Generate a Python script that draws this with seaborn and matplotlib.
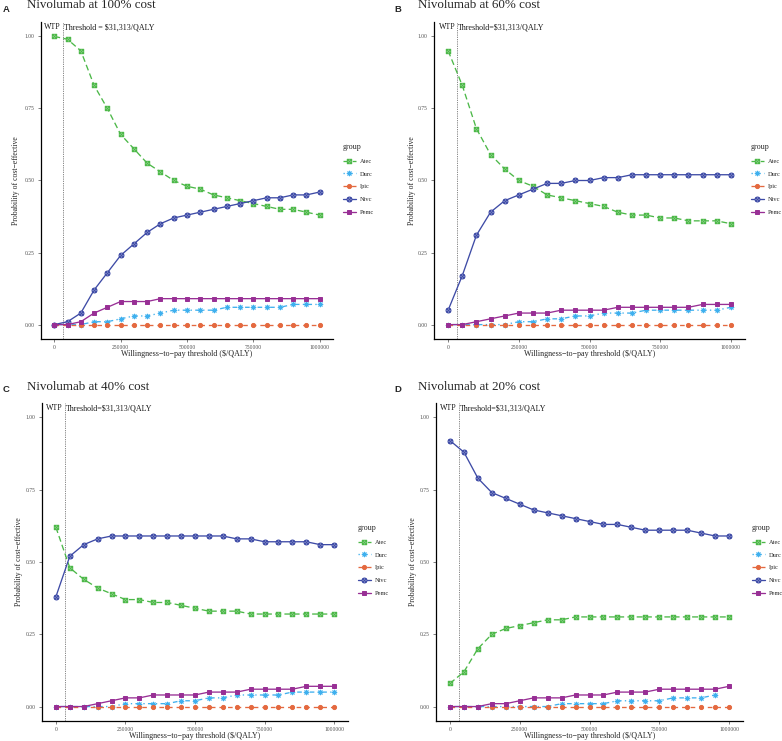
import numpy as np
import pandas as pd
import seaborn as sns
import matplotlib
matplotlib.use("Agg")
import matplotlib.pyplot as plt
from matplotlib.path import Path
from matplotlib.lines import Line2D

# ---------------- data ----------------
wtp = [0, 50000, 100000, 150000, 200000, 250000, 300000, 350000, 400000, 450000,
       500000, 550000, 600000, 650000, 700000, 750000, 800000, 850000, 900000,
       950000, 1000000]
groups = ["Atec", "Durc", "Ipic", "Nivc", "Pemc"]
threshold = 31313

# Panel A: 100% cost
atec_100 = [1.00, 0.99, 0.95, 0.83, 0.75, 0.66, 0.61, 0.56, 0.53, 0.50, 0.48,
            0.47, 0.45, 0.44, 0.43, 0.42, 0.41, 0.40, 0.40, 0.39, 0.38]
durc_100 = [0.00, 0.00, 0.00, 0.01, 0.01, 0.02, 0.03, 0.03, 0.04, 0.05, 0.05,
            0.05, 0.05, 0.06, 0.06, 0.06, 0.06, 0.06, 0.07, 0.07, 0.07]
ipic_100 = [0.00] * 21
nivc_100 = [0.00, 0.01, 0.04, 0.12, 0.18, 0.24, 0.28, 0.32, 0.35, 0.37, 0.38,
            0.39, 0.40, 0.41, 0.42, 0.43, 0.44, 0.44, 0.45, 0.45, 0.46]
pemc_100 = [0.00, 0.00, 0.01, 0.04, 0.06, 0.08, 0.08, 0.08, 0.09, 0.09, 0.09,
            0.09, 0.09, 0.09, 0.09, 0.09, 0.09, 0.09, 0.09, 0.09, 0.09]

# Panel B: 60% cost
atec_60 = [0.95, 0.83, 0.68, 0.59, 0.54, 0.50, 0.48, 0.45, 0.44, 0.43, 0.42,
           0.41, 0.39, 0.38, 0.38, 0.37, 0.37, 0.36, 0.36, 0.36, 0.35]
durc_60 = [0.00, 0.00, 0.00, 0.00, 0.00, 0.01, 0.01, 0.02, 0.02, 0.03, 0.03,
           0.04, 0.04, 0.04, 0.05, 0.05, 0.05, 0.05, 0.05, 0.05, 0.06]
ipic_60 = [0.00] * 21
nivc_60 = [0.05, 0.17, 0.31, 0.39, 0.43, 0.45, 0.47, 0.49, 0.49, 0.50, 0.50,
           0.51, 0.51, 0.52, 0.52, 0.52, 0.52, 0.52, 0.52, 0.52, 0.52]
pemc_60 = [0.00, 0.00, 0.01, 0.02, 0.03, 0.04, 0.04, 0.04, 0.05, 0.05, 0.05,
           0.05, 0.06, 0.06, 0.06, 0.06, 0.06, 0.06, 0.07, 0.07, 0.07]

# Panel C: 40% cost
atec_40 = [0.62, 0.48, 0.44, 0.41, 0.39, 0.37, 0.37, 0.36, 0.36, 0.35, 0.34,
           0.33, 0.33, 0.33, 0.32, 0.32, 0.32, 0.32, 0.32, 0.32, 0.32]
durc_40 = [0.00, 0.00, 0.00, 0.00, 0.00, 0.01, 0.01, 0.01, 0.01, 0.02, 0.02,
           0.03, 0.03, 0.04, 0.04, 0.04, 0.04, 0.05, 0.05, 0.05, 0.05]
ipic_40 = [0.00] * 21
nivc_40 = [0.38, 0.52, 0.56, 0.58, 0.59, 0.59, 0.59, 0.59, 0.59, 0.59, 0.59,
           0.59, 0.59, 0.58, 0.58, 0.57, 0.57, 0.57, 0.57, 0.56, 0.56]
pemc_40 = [0.00, 0.00, 0.00, 0.01, 0.02, 0.03, 0.03, 0.04, 0.04, 0.04, 0.04,
           0.05, 0.05, 0.05, 0.06, 0.06, 0.06, 0.06, 0.07, 0.07, 0.07]

# Panel D: 20% cost
atec_20 = [0.08, 0.12, 0.20, 0.25, 0.27, 0.28, 0.29, 0.30, 0.30, 0.31, 0.31,
           0.31, 0.31, 0.31, 0.31, 0.31, 0.31, 0.31, 0.31, 0.31, 0.31]
durc_20 = [0.00, 0.00, 0.00, 0.00, 0.00, 0.00, 0.00, 0.00, 0.01, 0.01, 0.01,
           0.01, 0.02, 0.02, 0.02, 0.02, 0.03, 0.03, 0.03, 0.04, np.nan]
ipic_20 = [0.00] * 21
nivc_20 = [0.92, 0.88, 0.79, 0.74, 0.72, 0.70, 0.68, 0.67, 0.66, 0.65, 0.64,
           0.63, 0.63, 0.62, 0.61, 0.61, 0.61, 0.61, 0.60, 0.59, 0.59]
pemc_20 = [0.00, 0.00, 0.00, 0.01, 0.01, 0.02, 0.03, 0.03, 0.03, 0.04, 0.04,
           0.04, 0.05, 0.05, 0.05, 0.06, 0.06, 0.06, 0.06, 0.06, 0.07]

y_ticks = [0.00, 0.25, 0.50, 0.75, 1.00]
y_ticklabels = ["0.00", "0.25", "0.50", "0.75", "1.00"]
x_ticks = [0, 250000, 500000, 750000, 1000000]
x_ticklabels = ["0", "250000", "500000", "750000", "1000000"]

# ---------------- styles ----------------
sns.set_theme(style="ticks")
plt.rcParams["font.family"] = ["Liberation Serif", "DejaVu Serif"]

colors = {"Atec": "#4cb848", "Durc": "#3fb0ee", "Ipic": "#e4693f",
          "Nivc": "#3e4ba6", "Pemc": "#982f95"}
styles = {"Atec": (0, (4.5, 2.5)), "Durc": (0, (1, 2.5, 3.5, 2.5)),
          "Ipic": (0, (3.5, 3)), "Nivc": "-", "Pemc": "-"}

boxtimes = Path([(-1, -1), (1, -1), (1, 1), (-1, 1), (-1, -1),
                 (-1, -1), (1, 1), (-1, 1), (1, -1)],
                [Path.MOVETO, Path.LINETO, Path.LINETO, Path.LINETO, Path.CLOSEPOLY,
                 Path.MOVETO, Path.LINETO, Path.MOVETO, Path.LINETO])
cross = Path([(-0.7, -0.7), (0.7, 0.7), (-0.7, 0.7), (0.7, -0.7)],
             [Path.MOVETO, Path.LINETO, Path.MOVETO, Path.LINETO])
circtimes = Path.make_compound_path(Path.unit_circle(), cross)

markers = {"Atec": boxtimes, "Durc": (8, 2, 0), "Ipic": "o",
           "Nivc": circtimes, "Pemc": "s"}
msizes = {"Atec": 3.2, "Durc": 3.8, "Ipic": 3.0, "Nivc": 3.6, "Pemc": 2.9}
mfcs = {"Atec": "#a9dca6", "Durc": "#3fb0ee", "Ipic": "#e4693f",
        "Nivc": "#9ea5d6", "Pemc": "#982f95"}

FW, FH = 782, 741

panels = [
    dict(letter="A", title="Nivolumab at 100% cost",
         thr="Threshold = $31,313/QALY",
         data=[atec_100, durc_100, ipic_100, nivc_100, pemc_100],
         rect=(41, 333, 22, 339), leg=(343, 143), ylx=16),
    dict(letter="B", title="Nivolumab at 60% cost",
         thr="Threshold=$31,313/QALY",
         data=[atec_60, durc_60, ipic_60, nivc_60, pemc_60],
         rect=(434, 745, 22, 339), leg=(751, 143), ylx=412),
    dict(letter="C", title="Nivolumab at 40% cost",
         thr="Threshold=$31,313/QALY",
         data=[atec_40, durc_40, ipic_40, nivc_40, pemc_40],
         rect=(42, 348, 403, 721), leg=(358, 524), ylx=19),
    dict(letter="D", title="Nivolumab at 20% cost",
         thr="Threshold=$31,313/QALY",
         data=[atec_20, durc_20, ipic_20, nivc_20, pemc_20],
         rect=(436, 743, 403, 721), leg=(752, 524), ylx=413),
]

fig = plt.figure(figsize=(FW / 100, FH / 100), dpi=100)
fig.patch.set_facecolor("white")

for p in panels:
    l, r, t, b = p["rect"]
    ax = fig.add_axes([l / FW, 1 - b / FH, (r - l) / FW, (b - t) / FH])
    ax.set_facecolor("white")

    df = pd.DataFrame({
        "wtp": wtp * len(groups),
        "prob": [v for series in p["data"] for v in series],
        "group": [g for g in groups for _ in wtp],
    })

    handles = []
    for g in groups:
        sub = df[df["group"] == g]
        sns.lineplot(data=sub, x="wtp", y="prob", ax=ax, color=colors[g],
                     linestyle=styles[g], linewidth=0.95, marker=markers[g],
                     markersize=msizes[g], markerfacecolor=mfcs[g],
                     markeredgecolor=colors[g], markeredgewidth=0.7,
                     errorbar=None, legend=False)
        handles.append(Line2D([], [], color=colors[g], linestyle=styles[g],
                              linewidth=0.95, marker=markers[g],
                              markersize=msizes[g], markerfacecolor=mfcs[g],
                              markeredgecolor=colors[g], markeredgewidth=0.7))

    ax.axvline(threshold, color="#777777", linestyle=(0, (1.5, 1.2)),
               linewidth=0.6, zorder=0.5)

    ax.set_xlim(-50000, 1050000)
    ax.set_ylim(-0.05, 1.05)
    ax.set_xticks(x_ticks)
    ax.set_xticklabels(x_ticklabels)
    ax.set_yticks(y_ticks)
    ax.set_yticklabels(y_ticklabels)
    ax.tick_params(axis="both", labelsize=4.0, length=2, width=0.5,
                   colors="#4d4d4d", pad=2.5)
    for side in ["top", "right"]:
        ax.spines[side].set_visible(False)
    for side in ["left", "bottom"]:
        ax.spines[side].set_color("black")
        ax.spines[side].set_linewidth(0.9)

    ax.set_xlabel("Willingness\u2212to\u2212pay threshold ($/QALY)", fontsize=5.8)
    ax.xaxis.set_label_coords(0.5, -15.5 / (b - t))
    ax.xaxis.label.set_va("center")
    ax.set_ylabel("Probability of cost\u2212effective", fontsize=5.6)
    ax.yaxis.set_label_coords((p["ylx"] - l) / (r - l), 0.5)
    ax.yaxis.label.set_va("center")

    ax.annotate("WTP", xy=(threshold, 1.032), xytext=(-1.2, 0),
                textcoords="offset points", ha="right", va="center",
                fontsize=5.8, color="#1a1a1a")
    ax.annotate(p["thr"], xy=(threshold, 1.032), xytext=(1.0, 0),
                textcoords="offset points", ha="left", va="center",
                fontsize=5.8, color="#1a1a1a")

    # titles
    ox = 0 if l < 200 else 391
    oy = 0 if t < 200 else 381
    fig.text((ox + 3) / FW, 1 - (oy + 9) / FH, p["letter"], fontsize=6.8,
             fontweight="bold", family=["Liberation Sans", "DejaVu Sans"],
             ha="left", va="center")
    fig.text((ox + 27) / FW, 1 - (oy + 5.5) / FH, p["title"], fontsize=9.4,
             ha="left", va="center")

    lx, ly = p["leg"]
    leg = ax.legend(handles, groups, title="group", loc="upper left",
                    bbox_to_anchor=(lx / FW, 1 - ly / FH),
                    bbox_transform=fig.transFigure, frameon=False,
                    fontsize=4.6, title_fontsize=5.8, handlelength=2.0,
                    labelspacing=1.15, borderaxespad=0, borderpad=0,
                    handletextpad=0.6)
    leg._legend_box.align = "left"

fig.savefig("out.png", dpi=100, facecolor="white")
